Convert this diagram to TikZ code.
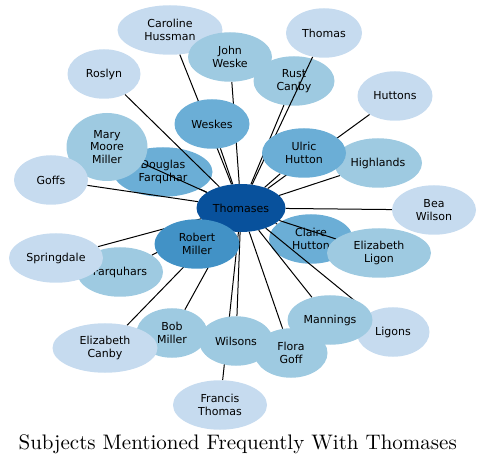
\documentclass[tikz,border=0pt]{standalone}
\usepackage{fontspec}
\newfontfamily\subjfont{DejaVu Sans}
\newfontfamily\titlefont{lmroman10-regular.otf}
\usetikzlibrary{shapes.geometric, backgrounds}
\definecolor{blueI}{HTML}{C6DBEF}
\definecolor{blueII}{HTML}{9ECAE1}
\definecolor{blueIII}{HTML}{6BAED6}
\definecolor{blueIV}{HTML}{4292C6}
\definecolor{blueV}{HTML}{08519C}

\begin{document}
\begin{tikzpicture}[
  x=1pt, y=-1pt,
  subj/.style={ellipse, fill=#1, inner sep=0pt, minimum width=80pt,
               minimum height=49.5pt, align=center,
               font=\subjfont\fontsize{11}{12.3}\selectfont},
  link/.style={line width=1pt, black},
  hdr/.style={font=\titlefont\fontsize{21}{25}\selectfont, anchor=base},
]
\useasboundingbox (0,0) rectangle (485,465);

\begin{scope}[on background layer]
\node[subj=blueIII, minimum width=99pt]  (douglas)   at (163,172) {Douglas\\Farquhar};
\node[subj=blueII,  minimum width=81pt]  (rustcanby) at (294,81)  {Rust\\Canby};
\node[subj=blueIII, minimum width=84pt]  (claire)    at (311,239) {Claire\\Hutton};
\end{scope}

\node[subj=blueI,   minimum width=105pt] (caroline)  at (170,30)  {Caroline\\Hussman};
\node[subj=blueII,  minimum width=84pt]  (johnweske) at (230,57)  {John\\Weske};
\node[subj=blueI,   minimum width=73pt]  (roslyn)    at (104,74)  {Roslyn};
\node[subj=blueI,   minimum width=76pt]  (thomas)    at (324,33)  {Thomas};
\node[subj=blueI,   minimum width=75pt]  (huttons)   at (395,96)  {Huttons};
\node[subj=blueIII, minimum width=75pt]  (weskes)    at (212,124) {Weskes};
\node[subj=blueII,  minimum width=81pt, minimum height=68pt] (marymiller) at (107,147) {Mary\\Moore\\Miller};
\node[subj=blueI,   minimum width=74pt]  (goffs)     at (51,180)  {Goffs};
\node[subj=blueII,  minimum width=88pt]  (highlands) at (378,163) {Highlands};
\node[subj=blueIII, minimum width=84pt]  (ulric)     at (304,153) {Ulric\\Hutton};
\node[subj=blueI,   minimum width=84pt]  (beawilson) at (434,210) {Bea\\Wilson};
\node[subj=blueV,   minimum width=89pt, minimum height=48pt] (thomases) at (241,208) {Thomases};
\node[subj=blueII,  minimum width=86pt]  (farquhars) at (120,272) {Farquhars};
\node[subj=blueIV,  minimum width=85pt]  (robertmiller) at (197,244) {Robert\\Miller};
\node[subj=blueI,   minimum width=94pt]  (springdale) at (56,258) {Springdale};
\node[subj=blueII,  minimum width=71pt]  (bobmiller) at (172,333) {Bob\\Miller};
\node[subj=blueI,   minimum width=105pt] (elizcanby) at (105,348) {Elizabeth\\Canby};
\node[subj=blueII,  minimum width=74pt]  (wilsons)   at (236,341) {Wilsons};
\node[subj=blueI,   minimum width=94pt]  (francis)   at (220,405) {Francis\\Thomas};
\node[subj=blueII,  minimum width=104pt] (elizligon) at (379,253) {Elizabeth\\Ligon};
\node[subj=blueI,   minimum width=73pt]  (ligons)    at (393,332) {Ligons};
\node[subj=blueII,  minimum width=85pt]  (mannings)  at (330,320) {Mannings};
\node[subj=blueII,  minimum width=73pt]  (floragoff) at (291,353) {Flora\\Goff};

\begin{scope}[on background layer]
\foreach \s in {caroline, johnweske, roslyn, thomas, rustcanby, huttons, weskes,
                marymiller, douglas, goffs, ulric, highlands, beawilson,
                robertmiller, springdale, farquhars, bobmiller, elizcanby,
                wilsons, francis, claire, elizligon, mannings, ligons, floragoff}
  \draw[link] (thomases) -- (\s);
\end{scope}

\node[hdr] (title) at (237.7,449) {Subjects Mentioned Frequently With Thomases};

\end{tikzpicture}
\end{document}
